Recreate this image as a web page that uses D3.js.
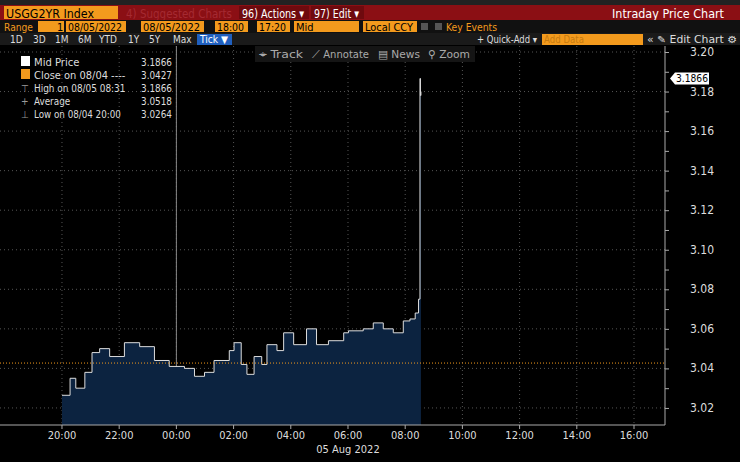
<!DOCTYPE html>
<html><head><meta charset="utf-8">
<script src="https://cdn.jsdelivr.net/npm/d3@7"></script>
<style>
body{margin:0;background:#000;}
text{font-family:"Liberation Sans Narrow","DejaVu Sans Condensed","Liberation Sans",Arial,sans-serif;}
</style></head>
<body><svg id="c" width="740" height="462"></svg>
<script>
// intraday mid price, USGG2YR, 04-05 Aug 2022
var times = ['08/04 20:00','08/04 20:17','08/04 20:29','08/04 20:48','08/04 21:03','08/04 21:19','08/04 21:40',
  '08/04 22:11','08/04 22:43','08/04 23:14','08/04 23:45','08/05 00:17','08/05 00:38','08/05 00:59','08/05 01:19',
  '08/05 01:51','08/05 02:01','08/05 02:16','08/05 02:28','08/05 02:43','08/05 02:59','08/05 03:10','08/05 03:31',
  '08/05 03:45','08/05 04:06','08/05 04:33','08/05 04:54','08/05 05:19','08/05 05:51','08/05 06:01','08/05 06:32',
  '08/05 06:53','08/05 07:14','08/05 07:35','08/05 07:56','08/05 08:10','08/05 08:21','08/05 08:28','08/05 08:31','08/05 08:32','08/05 08:33'];
var prices = [3.0264,3.035,3.030,3.038,3.048,3.050,3.046,3.053,3.051,3.044,3.041,3.040,3.036,3.038,3.044,
  3.049,3.053,3.042,3.037,3.046,3.042,3.052,3.049,3.058,3.052,3.060,3.052,3.054,3.058,3.059,3.060,
  3.063,3.060,3.058,3.064,3.065,3.068,3.075,3.1866,3.178,3.18];
var yTicks = [3.02,3.04,3.06,3.08,3.10,3.12,3.14,3.16,3.18,3.20];
var xTickLabels = ['20:00','22:00','00:00','02:00','04:00','06:00','08:00','10:00','12:00','14:00','16:00'];
var closePrev = 3.0427, lastPrice = 3.1866;
var legendRows = [['Mid Price','3.1866'],['Close on 08/04 ----','3.0427'],['High on 08/05 08:31','3.1866'],['Average','3.0518'],['Low on 08/04 20:00','3.0264']];

var parse = d3.timeParse('%Y/%m/%d %H:%M');
var data = times.map(function(t,i){ return {t: parse('2022/'+t), v: prices[i]}; });
var svg = d3.select('#c');

var x = d3.scaleTime().domain([parse('2022/08/04 17:50'), parse('2022/08/05 17:05')]).range([0,665]);
var y = d3.scaleLinear().domain([3.0,3.2]).range([447.5,52]);
var top0 = 46, bot = 425;

function txt(p, x0, y0, s, col, fs, len) {
  var t = p.append('text').attr('x',x0).attr('y',y0).attr('fill',col).attr('font-size',fs).text(s);
  if (len) t.attr('textLength',len).attr('lengthAdjust','spacingAndGlyphs');
  return t;
}

// header bars
svg.append('rect').attr('x',0).attr('y',0).attr('width',740).attr('height',5).attr('fill','#222');
svg.append('rect').attr('x',0).attr('y',5).attr('width',740).attr('height',15).attr('fill','#8b0f14');
svg.append('rect').attr('x',4).attr('y',6).attr('width',114).attr('height',13).attr('fill','#f39a1d');
txt(svg,6,17.5,'USGG2YR Index','#000',13,88);
txt(svg,126,17.5,'4) Suggested Charts','#a52a32',13,106);
[['96) Actions ▾',239,309],['97) Edit ▾',311,364]].forEach(function(b){
  svg.append('rect').attr('x',b[1]).attr('y',6).attr('width',b[2]-b[1]).attr('height',13).attr('fill','#6e0a0e');
  txt(svg,b[1]+3,17.5,b[0],'#fff',13,b[2]-b[1]-8);
});
txt(svg,612,17.5,'Intraday Price Chart','#fff',13,112);
svg.append('rect').attr('x',0).attr('y',20).attr('width',740).attr('height',13).attr('fill','#111');
txt(svg,4,31,'Range','#f39a1d',11,29);
[[38,64,'1'],[66,126,'08/05/2022'],[141,204,'08/05/2022'],[215,248,'18:00'],[257,290,'17:20'],[294,359,'Mid'],[363,417,'Local CCY']].forEach(function(b){
  svg.append('rect').attr('x',b[0]).attr('y',21).attr('width',b[1]-b[0]).attr('height',11).attr('fill','#f39a1d');
  var t = txt(svg,b[0]+2,30.5,b[2],'#000',11);
  if (b[2].length > 3) t.attr('textLength',b[1]-b[0]-6).attr('lengthAdjust','spacingAndGlyphs');
  if (b[2]==='1') t.attr('x',b[1]-7);
});
svg.append('rect').attr('x',421).attr('y',23).attr('width',7).attr('height',7).attr('fill','#555');
svg.append('rect').attr('x',435).attr('y',23).attr('width',7).attr('height',7).attr('fill','#555');
txt(svg,446,31,'Key Events','#f39a1d',11,51);
svg.append('rect').attr('x',0).attr('y',33).attr('width',740).attr('height',12).attr('fill','#1a1a1a');
['1D','3D','1M','6M','YTD','1Y','5Y','Max'].forEach(function(s,i){
  txt(svg,[10,33,55,78,99,128,149,173][i],43,s,'#ddd',10);
});
svg.append('rect').attr('x',197).attr('y',34).attr('width',35).attr('height',11).attr('fill','#1f5fbf');
txt(svg,200,43,'Tick ▼','#fff',10,28);
txt(svg,477,43,'+ Quick-Add ▾','#ddd',10,60);
svg.append('rect').attr('x',542).attr('y',34).attr('width',101).attr('height',11).attr('fill','#f39a1d');
txt(svg,544,43,'Add Data','#c77a10',10,40);
txt(svg,647,43,'« ✎ Edit Chart ⚙','#ddd',10,90);

// grid
var g = svg.append('g');
yTicks.forEach(function(v){
  g.append('line').attr('x1',0).attr('x2',665).attr('y1',y(v)).attr('y2',y(v)).attr('stroke','#555').attr('stroke-dasharray','1,3');
});
var xt = d3.timeHour.every(2).range(parse('2022/08/04 20:00'), parse('2022/08/05 17:00'));
xt.forEach(function(t){
  g.append('line').attr('x1',x(t)).attr('x2',x(t)).attr('y1',top0).attr('y2',bot).attr('stroke','#555').attr('stroke-dasharray','1,3');
});
g.append('line').attr('x1',x(parse('2022/08/05 00:00'))).attr('x2',x(parse('2022/08/05 00:00'))).attr('y1',top0).attr('y2',bot).attr('stroke','#888');

// area + line
svg.append('path').datum(data).attr('fill','#0c2340')
  .attr('d', d3.area().curve(d3.curveStepAfter).x(function(d){return x(d.t);}).y0(bot).y1(function(d){return y(d.v);}));
svg.append('path').datum(data).attr('fill','none').attr('stroke','#ddd').attr('stroke-width',1)
  .attr('d', d3.line().curve(d3.curveStepAfter).x(function(d){return x(d.t);}).y(function(d){return y(d.v);}));
svg.append('line').attr('x1',0).attr('x2',665).attr('y1',y(closePrev)).attr('y2',y(closePrev)).attr('stroke','#f39a1d').attr('stroke-dasharray','1,2');

// right axis
var ax = svg.append('g').attr('transform','translate(665,0)');
ax.append('line').attr('x1',0).attr('x2',0).attr('y1',top0).attr('y2',bot).attr('stroke','#aaa');
ax.append('g').call(d3.axisRight(y).tickValues(d3.range(3.02,3.205,0.01)).tickSize(4).tickFormat(''))
  .call(function(s){s.select('.domain').remove(); s.selectAll('line').attr('stroke','#aaa');});
yTicks.forEach(function(v){
  ax.append('text').attr('x',37).attr('y',y(v)+4).attr('fill','#ddd').attr('font-size',12).attr('text-anchor','middle').text(v.toFixed(2));
});
ax.append('path').attr('d','M5,'+y(lastPrice)+'l5,-6h34v12h-34z').attr('fill','#fff');
txt(ax,11,y(lastPrice)+4,lastPrice.toFixed(4),'#000',11,32);

// bottom axis
svg.append('line').attr('x1',0).attr('x2',665).attr('y1',bot).attr('y2',bot).attr('stroke','#aaa');
xt.forEach(function(t,i){
  svg.append('line').attr('x1',x(t)).attr('x2',x(t)).attr('y1',bot).attr('y2',bot+4).attr('stroke','#aaa');
  svg.append('text').attr('x',x(t)).attr('y',439).attr('fill','#ddd').attr('font-size',11).attr('text-anchor','middle').text(xTickLabels[i]);
});
svg.append('text').attr('x',x(parse('2022/08/05 06:00'))).attr('y',453).attr('fill','#ddd').attr('font-size',11).attr('text-anchor','middle').text('05 Aug 2022');

// toolbar
svg.append('rect').attr('x',255).attr('y',46).attr('width',220).attr('height',16).attr('fill','#151515');
[['⌖ Track',259,44],['⟋ Annotate',312,57],['▤ News',378,42],['⚲ Zoom',428,42]].forEach(function(b){
  txt(svg,b[1],58,b[0],'#aaa',11,b[2]);
});

// legend
var lg = svg.append('g');
var sw = ['#fff','#f39a1d',null,null,null];
legendRows.forEach(function(r,i){
  var yy = 66 + i*13;
  if (sw[i]) lg.append('rect').attr('x',21).attr('y',yy-10).attr('width',9).attr('height',10).attr('fill',sw[i]);
  else txt(lg,21,yy,['','','⊤','+','⊥'][i],'#999',10);
  txt(lg,34,yy,r[0],'#ddd',11,r[0].length*4.6+4);
  txt(lg,141,yy,r[1],'#ddd',11,31);
});
</script></body></html>
